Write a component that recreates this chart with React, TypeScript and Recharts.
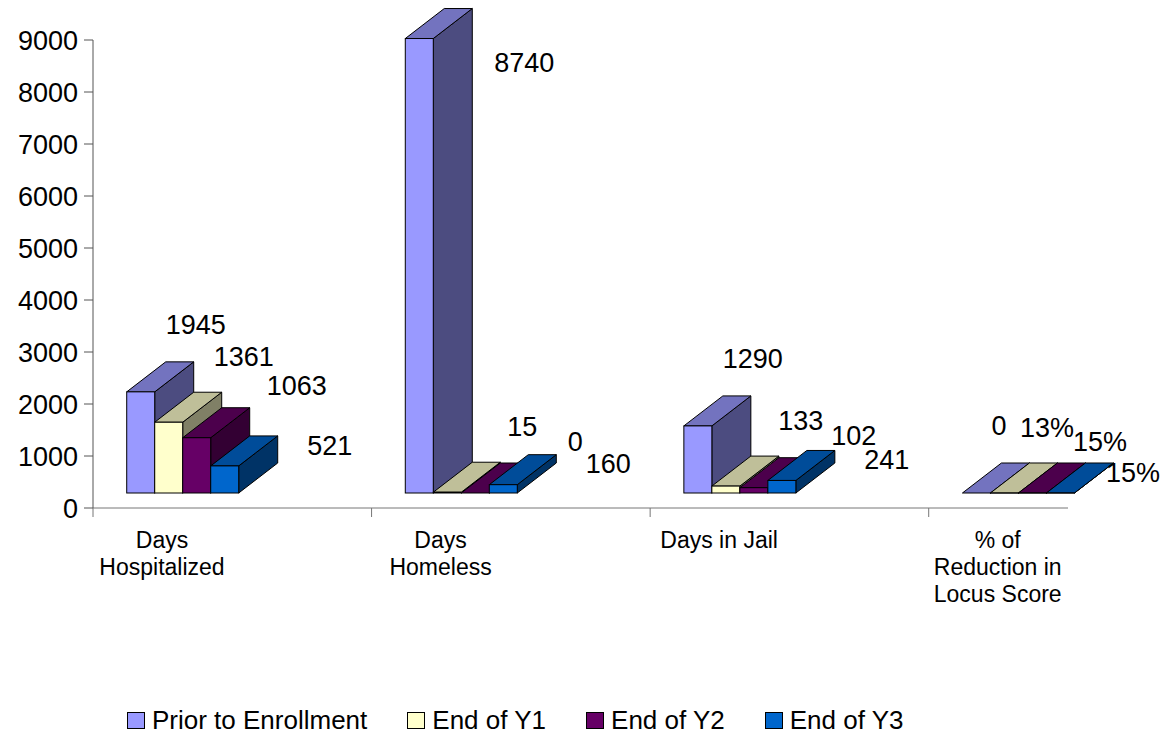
import React from "react";
import { BarChart, Bar, XAxis, YAxis, LabelList } from "recharts";

// ---- data ----
const CATEGORY_LINES: string[][] = [
  ["Days", "Hospitalized"],
  ["Days", "Homeless"],
  ["Days in Jail"],
  ["% of", "Reduction in", "Locus Score"],
];
const PERCENT_CATEGORY = 3;
const SERIES_NAMES = ["Prior to Enrollment", "End of Y1", "End of Y2", "End of Y3"];
const SERIES_KEYS = ["prior", "y1", "y2", "y3"];
const PRIOR = [1945, 8740, 1290, 0];
const END_Y1 = [1361, 15, 133, 0.13];
const END_Y2 = [1063, 0, 102, 0.15];
const END_Y3 = [521, 160, 241, 0.15];
const Y_TICKS = [0, 1000, 2000, 3000, 4000, 5000, 6000, 7000, 8000, 9000];
const X_TICKS = [0, 1, 2, 3];

// ---- styles ----
const FONT = "'Liberation Sans', Arial, sans-serif";
const COLORS = [
  { front: "#9999FF", top: "#7373BF", side: "#4C4C80" },
  { front: "#FFFFCC", top: "#BFBF99", side: "#808066" },
  { front: "#660066", top: "#4C004C", side: "#330033" },
  { front: "#0066CC", top: "#004C99", side: "#003366" },
];
const DEPTH_X = 39;
const DEPTH_Y = 30;
const SHIFT_X = 90;
const LIFT = 15;
const PLOT_TOP = 40;
const CHART_W = 1164;
const LABEL_NUDGE = [
  { dx: 55, dy: -68 },
  { dx: 75, dy: -66 },
  { dx: 100, dy: -52 },
  { dx: 105, dy: -21 },
];

const SERIES_VALUES = [PRIOR, END_Y1, END_Y2, END_Y3];
const data = CATEGORY_LINES.map((_, i) => {
  const row: Record<string, number> = { pos: X_TICKS[i] };
  SERIES_KEYS.forEach((k, s) => {
    row[k] = SERIES_VALUES[s][i];
  });
  return row;
});

const makeShape = (s: number) => (props: any) => {
  const { x, y, width, height } = props;
  if (x == null || y == null) return <g />;
  const fx = x + SHIFT_X;
  const fy = y - LIFT;
  const w = width;
  const h = Math.max(0, height || 0);
  const c = COLORS[s];
  return (
    <g>
      <polygon
        points={`${fx + w},${fy + h} ${fx + w + DEPTH_X},${fy + h - DEPTH_Y} ${fx + w + DEPTH_X},${fy - DEPTH_Y} ${fx + w},${fy}`}
        fill={c.side}
        stroke="#000"
        strokeWidth={1}
        strokeLinejoin="round"
      />
      <polygon
        points={`${fx},${fy} ${fx + DEPTH_X},${fy - DEPTH_Y} ${fx + w + DEPTH_X},${fy - DEPTH_Y} ${fx + w},${fy}`}
        fill={c.top}
        stroke="#000"
        strokeWidth={1}
        strokeLinejoin="round"
      />
      <rect x={fx} y={fy} width={w} height={h} fill={c.front} stroke="#000" strokeWidth={1} />
    </g>
  );
};

const formatValue = (v: number, index: number) => {
  if (index === PERCENT_CATEGORY) return v === 0 ? "0" : `${Math.round(v * 100)}%`;
  return String(v);
};
const estWidth = (text: string) => text.length * 15 + (text.includes("%") ? 9 : 0);

const makeLabel = (s: number) => (props: any) => {
  const vb = props.viewBox || {};
  const x = props.x ?? vb.x;
  const y = props.y ?? vb.y;
  const width = props.width ?? vb.width;
  const { value, index } = props;
  if (x == null || y == null || value == null) return null;
  const text = formatValue(Number(value), index);
  const frontCx = x + SHIFT_X + width / 2;
  const frontTop = y - LIFT;
  let cx = frontCx + LABEL_NUDGE[s].dx;
  let cy = frontTop + LABEL_NUDGE[s].dy;
  if (cy - 10 < PLOT_TOP) {
    cx = frontCx + 105;
    cy = frontTop + 24;
  } else {
    // keep the whole group of labels inside the chart: shift left if the last one overflows
    const last = SERIES_VALUES.length - 1;
    const lastText = formatValue(SERIES_VALUES[last][index], index);
    const lastCx = frontCx + (last - s) * width + LABEL_NUDGE[last].dx;
    const overflow = Math.max(0, lastCx + estWidth(lastText) / 2 - (CHART_W - 4));
    cx -= overflow;
  }
  return (
    <text x={cx} y={cy} dy="0.36em" textAnchor="middle" fontSize={27} fontFamily={FONT} fill="#000">
      {text}
    </text>
  );
};

const CategoryTick = (props: any) => {
  const { x, y, payload } = props;
  const lines = CATEGORY_LINES[payload.index ?? payload.value] || [];
  return (
    <text x={x + 69} y={y + 29} textAnchor="middle" fontSize={23} fontFamily={FONT} fill="#000">
      {lines.map((l, i) => (
        <tspan key={i} x={x + 69} dy={i === 0 ? 0 : 27}>
          {l}
        </tspan>
      ))}
    </text>
  );
};

const Legend3 = () => (
  <div
    style={{
      position: "absolute",
      left: 127,
      top: 707,
      display: "flex",
      gap: 40,
      fontFamily: FONT,
      fontSize: 26,
      lineHeight: "26px",
      color: "#000",
      whiteSpace: "nowrap",
    }}
  >
    {SERIES_NAMES.map((n, s) => (
      <div key={n} style={{ display: "flex", alignItems: "flex-start" }}>
        <span
          style={{
            display: "inline-block",
            boxSizing: "border-box",
            width: 18,
            height: 17,
            marginTop: 5,
            marginRight: 7,
            background: COLORS[s].front,
            border: "1px solid #000",
          }}
        />
        <span>{n}</span>
      </div>
    ))}
  </div>
);

export default function App() {
  return (
    <div style={{ position: "absolute", left: 0, top: 0, width: 1164, height: 734, background: "#fff" }}>
      <BarChart
        width={1164}
        height={734}
        data={data}
        margin={{ top: 40, right: 96, bottom: 0, left: 0 }}
        barGap={0}
      >
        <XAxis
          dataKey="pos"
          type="number"
          domain={[0, 3.5]}
          ticks={X_TICKS}
          interval={0}
          tickSize={9}
          height={226}
          axisLine={{ stroke: "#777" }}
          tickLine={{ stroke: "#777" }}
          tick={<CategoryTick />}
        />
        <YAxis
          type="number"
          domain={[0, 9000]}
          ticks={Y_TICKS}
          interval={0}
          width={93}
          tickSize={9}
          tickMargin={6}
          axisLine={{ stroke: "#555" }}
          tickLine={{ stroke: "#555" }}
          tick={{ fontSize: 27, fontFamily: FONT, fill: "#000" }}
        />
        {SERIES_KEYS.map((k, s) => (
          <Bar
            key={k}
            dataKey={k}
            name={SERIES_NAMES[s]}
            fill={COLORS[s].front}
            barSize={28}
            isAnimationActive={false}
            shape={makeShape(s)}
          >
            <LabelList dataKey={k} content={makeLabel(s)} />
          </Bar>
        ))}
      </BarChart>
      <Legend3 />
    </div>
  );
}
